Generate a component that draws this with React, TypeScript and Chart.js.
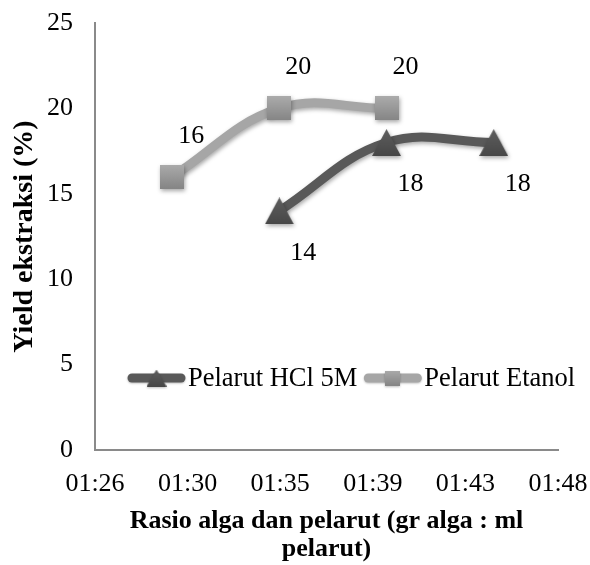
import React, { useEffect, useRef } from "react";
import { Chart, registerables } from "chart.js";

Chart.register(...registerables);

// Ratio expressed as minutes after 1:00 (Excel time values 1:30, 1:35 ...)
const SERIES_NAMES = ["Pelarut HCl 5M", "Pelarut Etanol"];
const HCL_X = [95, 100, 105];
const HCL_Y = [14, 18, 18];
const ETANOL_X = [90, 95, 100];
const ETANOL_Y = [16, 20, 20];
const X_TICK_VALUES = [86.4, 90.72, 95.04, 99.36, 103.68, 108];
const X_TICK_LABELS = ["01:26", "01:30", "01:35", "01:39", "01:43", "01:48"];
const Y_MIN = 0;
const Y_MAX = 25;
const Y_STEP = 5;
const X_TITLE = ["Rasio alga dan pelarut (gr alga : ml", "pelarut)"];
const Y_TITLE = "Yield ekstraksi (%)";

const FONT = "'Liberation Serif', 'Times New Roman', serif";
const HCL_COLOR = "#595959";
const ETANOL_COLOR = "#a6a6a6";

function makeSquare(size: number): HTMLCanvasElement {
  const c = document.createElement("canvas");
  c.width = size;
  c.height = size;
  const g = c.getContext("2d")!;
  const grad = g.createLinearGradient(0, 0, 0, size);
  grad.addColorStop(0, "#ababab");
  grad.addColorStop(1, "#858585");
  g.fillStyle = grad;
  g.fillRect(0, 0, size, size);
  return c;
}

function makeTriangle(w: number, h: number): HTMLCanvasElement {
  const c = document.createElement("canvas");
  c.width = w;
  c.height = h;
  const g = c.getContext("2d")!;
  const grad = g.createLinearGradient(0, 0, 0, h);
  grad.addColorStop(0, "#5e5e5e");
  grad.addColorStop(1, "#474747");
  g.fillStyle = grad;
  g.beginPath();
  g.moveTo(w / 2, 0);
  g.lineTo(w, h);
  g.lineTo(0, h);
  g.closePath();
  g.fill();
  return c;
}

export default function App() {
  const ref = useRef<HTMLCanvasElement | null>(null);

  useEffect(() => {
    document.body.style.margin = "0";
    document.body.style.overflow = "hidden";
    const canvas = ref.current;
    if (!canvas) return;

    const square = makeSquare(24);
    const triangle = makeTriangle(29, 27);
    const legendMarkers = [makeTriangle(20, 17), makeSquare(15)];
    const labelOffsets = [
      { dx: 24, dy: 42 },
      { dx: 19, dy: -41 },
    ];

    const shadowPlugin = {
      id: "shadow",
      beforeDatasetsDraw(chart: any) {
        const ctx = chart.ctx;
        ctx.save();
        ctx.shadowColor = "rgba(0,0,0,0.35)";
        ctx.shadowBlur = 4;
        ctx.shadowOffsetX = 1;
        ctx.shadowOffsetY = 2;
      },
      afterDatasetsDraw(chart: any) {
        chart.ctx.restore();
      },
    };

    const labelPlugin = {
      id: "pointLabels",
      afterDatasetsDraw(chart: any) {
        const ctx = chart.ctx;
        ctx.save();
        ctx.font = `26px ${FONT}`;
        ctx.fillStyle = "#000";
        ctx.textAlign = "center";
        ctx.textBaseline = "middle";
        chart.data.datasets.forEach((ds: any, i: number) => {
          const meta = chart.getDatasetMeta(i);
          meta.data.forEach((pt: any, j: number) => {
            const v = ds.data[j].y;
            ctx.fillText(String(v), pt.x + labelOffsets[i].dx, pt.y + labelOffsets[i].dy);
          });
        });
        ctx.restore();
      },
    };

    const legendPlugin = {
      id: "customLegend",
      afterDraw(chart: any) {
        const ctx = chart.ctx;
        const area = chart.chartArea;
        let x = area.left + 33;
        const y = area.bottom - 72;
        ctx.save();
        ctx.font = `26.5px ${FONT}`;
        ctx.textBaseline = "middle";
        ctx.textAlign = "left";
        chart.data.datasets.forEach((ds: any, i: number) => {
          const len = 57;
          ctx.save();
          ctx.shadowColor = "rgba(0,0,0,0.25)";
          ctx.shadowBlur = 2;
          ctx.shadowOffsetY = 1;
          ctx.strokeStyle = ds.borderColor;
          ctx.lineWidth = 9;
          ctx.lineCap = "round";
          ctx.beginPath();
          ctx.moveTo(x + 4, y);
          ctx.lineTo(x + len - 4, y);
          ctx.stroke();
          const m = legendMarkers[i];
          ctx.drawImage(m, x + len / 2 - m.width / 2, y - m.height / 2);
          ctx.restore();
          ctx.fillStyle = "#000";
          ctx.fillText(ds.label, x + len + 3, y + 1);
          x += len + 3 + ctx.measureText(ds.label).width + 7;
        });
        ctx.restore();
      },
    };

    const chart = new Chart(canvas, {
      type: "line",
      data: {
        datasets: [
          {
            label: SERIES_NAMES[0],
            data: HCL_X.map((x, i) => ({ x, y: HCL_Y[i] })),
            borderColor: HCL_COLOR,
            backgroundColor: HCL_COLOR,
            borderWidth: 9,
            borderCapStyle: "round",
            tension: 0.4,
            pointStyle: triangle as any,
            pointRadius: 14,
            showLine: true,
          },
          {
            label: SERIES_NAMES[1],
            data: ETANOL_X.map((x, i) => ({ x, y: ETANOL_Y[i] })),
            borderColor: ETANOL_COLOR,
            backgroundColor: ETANOL_COLOR,
            borderWidth: 9,
            borderCapStyle: "round",
            tension: 0.4,
            pointStyle: square as any,
            pointRadius: 12,
            showLine: true,
          },
        ],
      },
      options: {
        animation: false,
        responsive: false,
        maintainAspectRatio: false,
        layout: { padding: 0 },
        plugins: {
          legend: { display: false },
          tooltip: { enabled: false },
        },
        scales: {
          x: {
            type: "linear",
            min: X_TICK_VALUES[0],
            max: X_TICK_VALUES[X_TICK_VALUES.length - 1],
            afterBuildTicks: (scale: any) => {
              scale.ticks = X_TICK_VALUES.map((v) => ({ value: v }));
            },
            afterFit: (scale: any) => {
              scale.height = 115;
              scale.paddingLeft = 0;
              scale.paddingRight = 32;
            },
            grid: { display: false, drawTicks: false },
            border: { display: true, color: "#8a8a8a", width: 2 },
            ticks: {
              autoSkip: false,
              maxRotation: 0,
              padding: 19,
              color: "#000",
              font: { family: FONT, size: 26 },
              callback: (_v: any, i: number) => X_TICK_LABELS[i],
            },
            title: {
              display: true,
              text: X_TITLE,
              color: "#000",
              font: { family: FONT, size: 26, weight: "bold", lineHeight: 1.1 },
              padding: { top: 0, bottom: 1 },
            },
          },
          y: {
            type: "linear",
            min: Y_MIN,
            max: Y_MAX,
            afterFit: (scale: any) => {
              scale.width = 95;
              scale.paddingTop = 23;
              scale.paddingBottom = 0;
            },
            grid: { display: false, drawTicks: false },
            border: { display: true, color: "#8a8a8a", width: 2 },
            ticks: {
              stepSize: Y_STEP,
              padding: 22,
              color: "#000",
              font: { family: FONT, size: 26 },
            },
            title: {
              display: true,
              text: Y_TITLE,
              color: "#000",
              font: { family: FONT, size: 28, weight: "bold", lineHeight: 1.1 },
              padding: { top: 9, bottom: 0 },
            },
          },
        },
      },
      plugins: [shadowPlugin, labelPlugin, legendPlugin],
    });

    return () => chart.destroy();
  }, []);

  return (
    <div style={{ width: 590, height: 565, background: "#fff" }}>
      <canvas ref={ref} width={590} height={565} style={{ display: "block" }} />
    </div>
  );
}
